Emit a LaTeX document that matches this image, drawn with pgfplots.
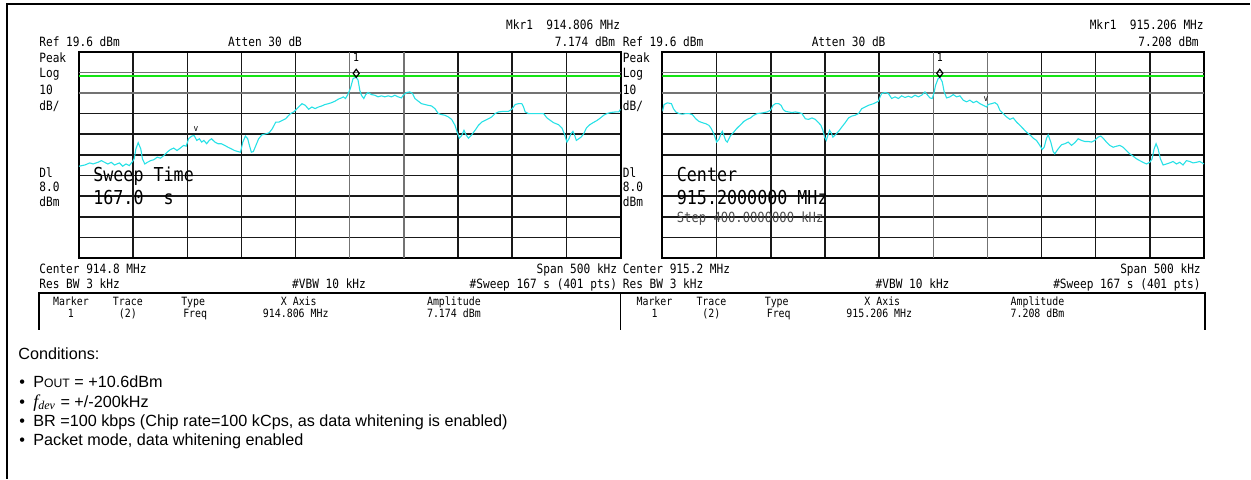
\documentclass[border=0pt]{standalone}
\usepackage{pgfplots}
\pgfplotsset{compat=1.18}
\usepackage{fontspec}
\setmainfont{Liberation Sans}
\newfontfamily\sa[FakeStretch=0.87]{DejaVu Sans Mono}
\newfontfamily\tnr{Liberation Serif}
\definecolor{tracecyan}{RGB}{40,225,230}
\definecolor{dlgreen}{RGB}{20,230,20}
\newcommand\hf{\sa\fontsize{6.4pt}{7pt}\selectfont}
\newcommand\bigf{\sa\fontsize{9.6pt}{10pt}\selectfont}
\newcommand\tf{\sa\fontsize{5.7pt}{6pt}\selectfont}
\newcommand\stf{\sa\fontsize{7pt}{7pt}\selectfont}
\newcommand\cf{\fontsize{8.1pt}{9pt}\selectfont}
\pgfplotsset{sa/.style={
  scale only axis, width=271pt, height=103.3pt,
  xmin=-250, xmax=250, ymin=-80.4, ymax=19.6,
  xtick={-250,-200,-150,-100,-50,100,150,200,250},
  ytick={-70.4,-60.4,-50.4,-40.4,-30.4,-20.4,-10.4},
  extra x ticks={0,50}, extra y ticks={9.6,-0.4},
  extra x tick style={grid=major, major grid style={black!55, line width=0.75pt}},
  extra y tick style={grid=major, major grid style={black!55, line width=0.75pt}},
  xticklabels={}, yticklabels={}, extra x tick labels={}, extra y tick labels={},
  major tick length=0pt,
  grid=major, major grid style={black!90, line width=0.75pt},
  axis line style={black, line width=1pt},
  anchor=north west}}
\pgfplotstableread{
f dbm
-250 -35.9
-244.5 -35.3
-240 -34.3
-236.9 -34.8
-232.4 -34.0
-229.3 -33.2
-226.3 -34.0
-223.3 -34.8
-220.2 -34.0
-217.2 -35.3
-212.6 -34.3
-209.6 -35.9
-206.6 -34.8
-203.5 -35.6
-200.5 -33.6
-199 -32.3
-197.4 -27.5
-195.3 -24.5
-192.9 -27.5
-191.4 -32.3
-189.2 -34.8
-186.8 -34.0
-183.8 -33.2
-180.7 -32.7
-177.7 -31.5
-174.7 -32.0
-171.6 -30.7
-168.6 -29.1
-165.5 -27.8
-162.5 -27.1
-159.5 -28.3
-156.4 -27.1
-153.4 -25.8
-151 -26.2
-148.8 -22.6
-145.8 -21.3
-143.7 -21.0
-141.2 -23.4
-138.8 -22.6
-136.7 -24.2
-134.6 -23.4
-132.1 -25.0
-129.7 -23.4
-127.6 -22.6
-124.5 -24.2
-121.5 -25.0
-118.5 -25.0
-115.4 -25.8
-112.4 -26.7
-109.3 -27.5
-106.3 -28.3
-103.3 -28.8
-100.8 -29.1
-98.7 -24.2
-96.3 -21.3
-94.2 -22.6
-92.6 -25.8
-90.8 -29.1
-89 -28.8
-86.6 -25.8
-84.1 -22.6
-81.1 -20.7
-77.4 -20.2
-74.4 -19.7
-71.4 -17.7
-68.3 -14.5
-65.3 -14.5
-62.3 -13.7
-59.2 -12.9
-54.7 -10.4
-51.6 -9.6
-47.1 -7.2
-44 -5.6
-41 -6.4
-37.9 -8.3
-34.9 -7.2
-31.9 -8.0
-28.8 -7.2
-25.8 -6.7
-22.8 -6.0
-19.7 -5.6
-16.7 -5.1
-13.6 -4.4
-10.6 -3.4
-7.6 -2.8
-6 -2.3
-3.9 -3.1
-2.1 -1.5
0.6 1.7
3.1 6.6
6 7.174
7.7 5.8
9.3 0.9
10.8 -1.5
13 -3.1
14.8 -1.2
17 -0.2
20.1 -1.2
23.1 -1.5
26.2 -2.3
29.3 -1.8
32.4 -2.3
35.5 -1.8
38.6 -2.3
41.7 -1.5
44.7 -2.3
47.8 -2.8
49.4 -1.5
52.5 -0.2
55.5 0.1
58 -0.7
60.2 -3.1
63.3 -4.4
66.3 -5.6
69.4 -6.0
72.5 -6.4
75.6 -6.7
78.7 -8.0
81.8 -10.4
84.9 -10.9
87.9 -11.2
91 -12.0
94.1 -13.2
97.2 -16.1
99.4 -19.7
101.2 -22.3
103.4 -21.0
105.5 -18.5
107.4 -20.7
109.6 -22.3
112.6 -20.7
115.7 -18.5
118.8 -16.1
121.9 -14.5
125 -13.7
128.1 -12.9
131.2 -12.0
134.2 -10.4
137.3 -9.6
142 -9.3
146.6 -9.3
149.7 -8.3
152.8 -6.0
155.8 -5.6
158.9 -5.6
160.5 -7.2
162 -9.6
165.1 -10.4
168.2 -10.4
171.3 -10.4
175.9 -10.4
179 -10.4
182.1 -12.5
185.2 -13.7
188.2 -14.8
192.9 -15.8
196 -17.4
198.1 -20.2
200.6 -24.2
202.4 -22.6
204.3 -20.2
206.1 -19.0
207.7 -21.0
209.2 -23.4
211.4 -22.6
213.6 -21.8
216 -20.2
218.5 -17.4
221.6 -15.8
224.7 -14.8
228.4 -13.7
231.5 -12.5
234.5 -11.2
237.6 -10.4
240.7 -9.9
245.3 -9.6
248.4 -9.6
250 -8.3
}\lefttrace
\pgfplotstableread{
f dbm
-250 -9.3
-248.5 -6.0
-245.4 -5.2
-241.7 -5.6
-239.9 -8.0
-237.7 -9.6
-234.7 -10.4
-231.6 -10.7
-228.5 -10.4
-225.5 -10.4
-222.4 -10.9
-219.3 -12.9
-216.3 -14.2
-213.2 -14.8
-210.1 -15.3
-207.1 -16.1
-204.9 -17.7
-203.1 -19.7
-201.5 -21.8
-200 -24.2
-197.9 -22.9
-196.3 -20.7
-194.8 -19.0
-193.3 -21.0
-191.7 -23.4
-190.2 -24.2
-188.7 -22.6
-187.1 -21.0
-184.7 -19.7
-181.6 -17.7
-177.9 -15.8
-174.9 -14.2
-171.8 -13.2
-168.7 -12.5
-165.7 -11.2
-162.6 -10.4
-158 -10.1
-153.4 -9.6
-150.3 -8.8
-147.9 -6.4
-145.7 -5.6
-142.7 -5.6
-140.5 -6.4
-138.7 -8.3
-136.5 -9.3
-133.5 -9.6
-130.4 -9.9
-127.3 -9.6
-124.3 -9.9
-121.2 -10.4
-118.1 -12.9
-115.1 -13.2
-112 -12.5
-108.9 -13.2
-105.9 -14.8
-103.7 -16.1
-101.9 -18.5
-100.3 -21.8
-98.8 -23.4
-97.3 -21.0
-95.7 -18.5
-94.2 -19.7
-92.7 -21.8
-90.5 -20.7
-87.4 -19.0
-84.4 -16.9
-81.3 -14.8
-78.2 -12.5
-75.2 -11.6
-72.1 -11.2
-69 -10.4
-66 -8.0
-62.9 -7.2
-59.8 -6.4
-55.2 -5.6
-50.6 -4.4
-49.1 -2.3
-47.6 -0.7
-44.5 -0.2
-41.4 -0.7
-38.4 -3.1
-35.3 -2.3
-32.2 -3.1
-29.2 -1.8
-26.1 -2.6
-23 -2.0
-20 -2.6
-16.9 -1.5
-13.8 -2.3
-10.8 -1.5
-7.7 0.1
-5.6 -1.2
-3.1 -2.8
-1 -3.1
0.5 -0.7
2.2 3.4
4.4 6.4
6 7.208
8.3 5.0
10.1 0.1
12.3 -2.8
15.4 -2.3
18.5 -1.2
21.5 -2.3
24.6 -1.8
27.7 -3.9
30.8 -4.7
33.8 -3.9
36.9 -5.1
40 -4.4
43.1 -5.6
46.1 -6.4
49.2 -7.2
50.7 -6.0
53.8 -5.6
56.9 -5.1
59.3 -6.0
61.5 -8.8
64.6 -10.4
67.7 -12.0
70.7 -13.2
73.8 -12.5
76.9 -14.5
80 -16.1
83 -17.7
86.1 -19.4
89.2 -20.7
92.3 -22.3
95.3 -23.4
98.4 -25.8
100.6 -27.8
102.4 -26.7
104.6 -22.3
106.1 -20.7
108.5 -24.2
110.7 -28.8
112.2 -29.9
115.3 -27.5
118.4 -25.5
121.5 -25.0
124.5 -24.2
127.6 -25.8
130.7 -24.5
133.8 -22.6
136.8 -23.4
139.9 -23.9
143 -23.9
146.1 -24.2
149.1 -23.4
152.2 -21.8
154.7 -21.3
156.8 -22.3
159.9 -24.2
163 -25.8
166.1 -26.7
169.1 -26.2
172.2 -25.8
175.3 -26.7
178.4 -28.3
181.4 -29.9
184.5 -31.0
187.6 -32.3
190.7 -33.2
193.7 -34.0
196.8 -34.8
199.9 -34.0
202 -32.3
203.9 -27.5
205.7 -25.0
207.6 -27.5
209.7 -32.3
212.2 -35.3
215.3 -34.8
218.3 -34.3
221.4 -33.6
224.5 -34.8
227.6 -34.0
230.6 -35.3
233.7 -33.2
236.8 -33.6
239.9 -34.3
242.9 -34.0
246 -33.6
250 -34.8
}\righttrace
\begin{document}
\begin{tikzpicture}
% left analyzer screen
\begin{axis}[sa, at={(39.5pt,-25.85pt)}]
\addplot[draw=dlgreen, line width=1pt, mark=none] coordinates {(-250,8.0) (250,8.0)};
\addplot[draw=tracecyan, line width=0.55pt, mark=none] table[x=f, y=dbm] {\lefttrace};
\addplot[only marks, mark=diamond, mark size=2pt,
  mark options={yshift=2pt, line width=0.6pt, black},
  point meta=explicit symbolic, nodes near coords,
  every node near coord/.append style={font=\tf, anchor=south, yshift=5.5pt, inner sep=0pt}]
  coordinates {(6,7.174) [1]};
\node[font=\fontsize{4.5pt}{5pt}\sa, inner sep=0pt, anchor=south] at (axis cs:-142,-19.5) {v};
\end{axis}
% right analyzer screen
\begin{axis}[sa, at={(331.5pt,-25.85pt)}]
\addplot[draw=dlgreen, line width=1pt, mark=none] coordinates {(-250,8.0) (250,8.0)};
\addplot[draw=tracecyan, line width=0.55pt, mark=none] table[x=f, y=dbm] {\righttrace};
\addplot[only marks, mark=diamond, mark size=2pt,
  mark options={yshift=2pt, line width=0.6pt, black},
  point meta=explicit symbolic, nodes near coords,
  every node near coord/.append style={font=\tf, anchor=south, yshift=5.5pt, inner sep=0pt}]
  coordinates {(6,7.208) [1]};
\node[font=\fontsize{4.5pt}{5pt}\sa, inner sep=0pt, anchor=south] at (axis cs:48.6,-4.5) {v};
\end{axis}
\begin{scope}[x=0.5pt, y=-0.5pt, every node/.style={inner sep=0pt, anchor=base west}]
\path (0,0) rectangle (1251,479);
\draw[line width=1pt] (7,479) -- (7,4) -- (1251,4);
% header texts
\foreach \dx/\mk/\amp in {0/914.806/7.174, 584/915.206/7.208}{
  \node[font=\hf] at (39+\dx,46.5) {Ref 19.6 dBm};
  \node[font=\hf] at (228+\dx,46.5) {Atten 30 dB};
  \node[font=\hf, anchor=base east] at (621+\dx,30) {Mkr1\ \ \mk\ MHz};
  \node[font=\hf, anchor=base east] at (616+\dx,46.5) {\amp\ dBm};
  \node[font=\hf] at (39+\dx,62.5) {Peak};
  \node[font=\hf] at (39+\dx,78) {Log};
  \node[font=\hf] at (39+\dx,94.3) {10};
  \node[font=\hf] at (39+\dx,110.5) {dB/};
  \node[font=\hf] at (39+\dx,178) {Dl};
  \node[font=\hf] at (39+\dx,192) {8.0};
  \node[font=\hf] at (39+\dx,207) {dBm};
  \node[font=\hf] at (39+\dx,273.5) {Center \ifnum\dx=0 914.8\else 915.2\fi\ MHz};
  \node[font=\hf, anchor=base east] at (618+\dx,273.5) {Span 500 kHz};
  \node[font=\hf] at (39+\dx,289) {Res BW 3 kHz};
  \node[font=\hf] at (292+\dx,289) {\#VBW 10 kHz};
  \node[font=\hf, anchor=base east] at (618+\dx,289) {\#Sweep 167 s (401 pts)};
  % marker table
  \node[font=\tf, anchor=base] at (71+\dx,306) {Marker};
  \node[font=\tf, anchor=base] at (71+\dx,318) {1};
  \node[font=\tf, anchor=base] at (128+\dx,306) {Trace};
  \node[font=\tf, anchor=base] at (128+\dx,318) {(2)};
  \node[font=\tf] at (181+\dx,306) {Type};
  \node[font=\tf] at (183+\dx,318) {Freq};
  \node[font=\tf, anchor=base] at (299+\dx,306) {X Axis};
  \node[font=\tf, anchor=base] at (296+\dx,318) {\mk\ MHz};
  \node[font=\tf] at (427+\dx,306) {Amplitude};
  \node[font=\tf] at (427+\dx,318) {\amp\ dBm};
}
\draw[line width=0.9pt] (39,330) -- (39,293.3) -- (1206,293.3) -- (1206,330);
\draw[line width=0.9pt] (621,293.3) -- (621,330);
% large overlay texts
\node[font=\bigf] at (93,182) {Sweep Time};
\node[font=\bigf] at (93,205) {167.0\ \ s};
\node[font=\bigf] at (677,182) {Center};
\node[font=\bigf] at (677,205) {915.2000000 MHz};
\node[font=\stf, text=black!70] at (677,222.5) {Step 400.0000000 kHz};
% conditions
\node[font=\cf] at (18,360) {Conditions:};
\node[font=\cf] at (19,388) {\textbullet};
\node[font=\cf] at (33,388) {P{\fontsize{6.1pt}{7pt}\selectfont OUT} = +10.6dBm};
\node[font=\cf] at (19,408) {\textbullet};
\node[font=\cf] at (33,408) {{\tnr\itshape\fontsize{9pt}{9pt}\selectfont f\textsubscript{dev}} = +/-200kHz};
\node[font=\cf] at (19,427) {\textbullet};
\node[font=\cf] at (33,427) {BR =100 kbps (Chip rate=100 kCps, as data whitening is enabled)};
\node[font=\cf] at (19,446) {\textbullet};
\node[font=\cf] at (33,446) {Packet mode, data whitening enabled};
\end{scope}
\end{tikzpicture}
\end{document}
